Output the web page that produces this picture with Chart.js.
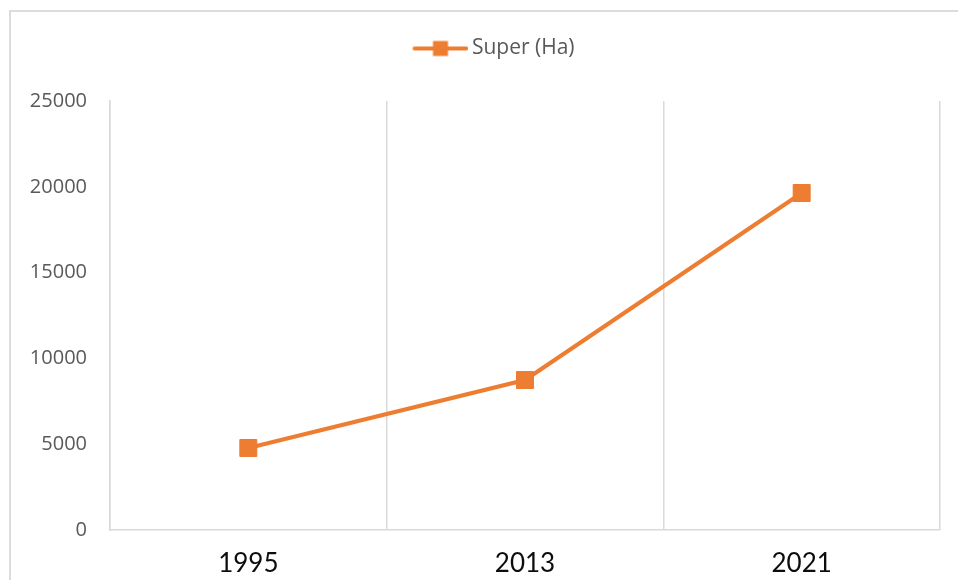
<!DOCTYPE html>
<html>
<head>
<meta charset="utf-8">
<script src="https://cdn.jsdelivr.net/npm/chart.js@4.4.1/dist/chart.umd.min.js"></script>
<style>
  html, body { margin: 0; padding: 0; background: #ffffff; }
  #wrap { position: relative; width: 958px; height: 580px; overflow: hidden; }
  #frame { position: absolute; left: 9px; top: 10px; width: 980px; height: 600px;
           border: 2px solid #dcdcdc; box-sizing: border-box; pointer-events: none; }
  canvas { position: absolute; left: 0; top: 0; }
</style>
</head>
<body>
<div id="wrap">
  <canvas id="c" width="958" height="580"></canvas>
  <div id="frame"></div>
</div>
<script>
// ---- data ----
const categories = ['1995', '2013', '2021'];
const seriesName = 'Super (Ha)';
const superHa = [4780, 8740, 19640];
const yMin = 0;
const yMax = 25000;
const yStep = 5000;

const ORANGE = '#ED7D31';

// legend icon: line with square marker (drawn in the right part of a wider canvas
// so that the legend item sits where it does in the reference)
const icon = document.createElement('canvas');
icon.width = 110; icon.height = 18;
(function () {
  const g = icon.getContext('2d');
  g.strokeStyle = ORANGE; g.lineWidth = 4; g.lineCap = 'round';
  g.beginPath(); g.moveTo(56, 9); g.lineTo(108, 9); g.stroke();
  g.fillStyle = ORANGE; g.fillRect(74.5, 1.5, 15, 15);
})();

new Chart(document.getElementById('c'), {
  type: 'line',
  data: {
    labels: categories,
    datasets: [{
      label: seriesName,
      data: superHa,
      borderColor: ORANGE,
      backgroundColor: ORANGE,
      borderWidth: 4,
      pointStyle: 'rect',
      pointRadius: 12,
      pointBorderWidth: 1,
      pointBackgroundColor: ORANGE,
      pointBorderColor: ORANGE,
      tension: 0,
      fill: false
    }]
  },
  options: {
    responsive: false,
    animation: false,
    layout: { padding: { left: 0, right: 18, top: 28, bottom: 0 } },
    plugins: {
      legend: {
        position: 'top',
        labels: {
          usePointStyle: true,
          pointStyle: icon,
          pointStyleWidth: 96,
          padding: 10,
          color: '#595959',
          font: { family: '"Open Sans"', size: 21 }
        }
      },
      title: {
        display: true,
        text: '',
        position: 'top',
        weight: 500,
        font: { size: 10 },
        padding: { top: 0, bottom: 20 }
      },
      tooltip: { enabled: false }
    },
    scales: {
      x: {
        type: 'category',
        offset: true,
        grid: { display: true, offset: true, drawTicks: false, color: '#d9d9d9', lineWidth: 1.5 },
        border: { display: true, color: '#d9d9d9', width: 1.5 },
        ticks: {
          color: '#0d0d0d', padding: 18, maxRotation: 0, autoSkip: false,
          font: { family: 'Lato', size: 26 }
        },
        afterFit: (s) => { s.height = 50; }
      },
      y: {
        min: yMin, max: yMax,
        grid: { display: false, drawTicks: false },
        border: { display: true, color: '#d9d9d9', width: 1.5 },
        ticks: {
          stepSize: yStep, padding: 23, color: '#595959',
          font: { family: '"Open Sans"', size: 20 },
          callback: (v) => String(v)
        },
        afterFit: (s) => { s.width = 110; }
      }
    }
  }
});
</script>
</body>
</html>
